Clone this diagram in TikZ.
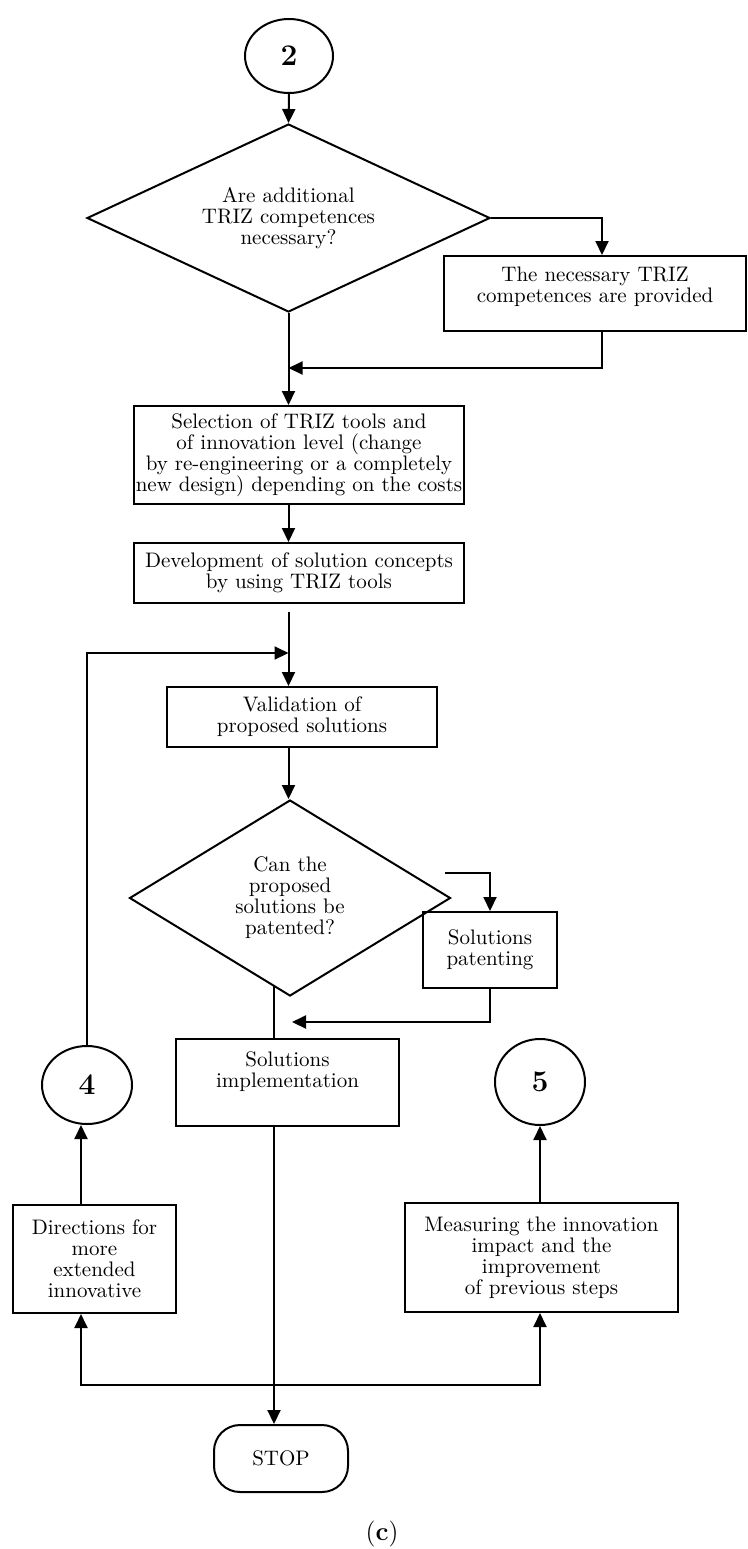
\documentclass[tikz,border=0pt]{standalone}
\usetikzlibrary{arrows.meta,shapes.geometric}
\begin{document}
\begin{tikzpicture}[x=0.5pt,y=-0.5pt,line width=1pt,
    >={Triangle[length=7pt,width=6.5pt]},
    every node/.style={font=\fontsize{10.5}{10.5}\selectfont},
    box/.style={draw,rectangle,align=center,inner sep=1pt},
    decision/.style={draw,diamond,align=center,inner sep=0pt},
    connector/.style={draw,ellipse,inner sep=0pt,font=\fontsize{15}{16}\selectfont\bfseries},
    terminal/.style={draw,rectangle,rounded corners=13pt}]
    \useasboundingbox (0,0) rectangle (748,1549);
    % flow axis
    \coordinate (axis) at (288.5,0);
    % nodes
    \node[connector,minimum width=44pt,minimum height=37pt] (c2) at (289,56) {2};
    \node[decision,aspect=2.1,minimum width=201.5pt,minimum height=94pt] (d1) at (288.5,218) {Are additional\\TRIZ competences\\necessary?};
    \node[box,minimum width=151pt,minimum height=37.5pt,label={[yshift=3.5pt,align=center]center:The necessary TRIZ\\competences are provided}] (prov) at (595,293.5) {};
    \node[box,minimum width=165pt,minimum height=49pt] (sel) at (299,455) {Selection of TRIZ tools and\\of innovation level (change\\by re-engineering or a completely\\new design) depending on the costs};
    \node[box,minimum width=165pt,minimum height=30pt] (dev) at (299,573) {Development of solution concepts\\by using TRIZ tools};
    \node[box,minimum width=135pt,minimum height=30pt] (val) at (302,717) {Validation of\\proposed solutions};
    \node[decision,aspect=1.6,minimum width=160.5pt,minimum height=98pt] (d2) at (290,898) {Can the\\proposed\\solutions be\\patented?};
    \node[box,minimum width=67pt,minimum height=38pt] (pat) at (490,950) {Solutions\\patenting};
    \node[box,minimum width=111.5pt,minimum height=43.5pt,label={[yshift=5.5pt,align=center]center:Solutions\\implementation}] (impl) at (287.5,1082.5) {};
    \node[connector,minimum width=45pt,minimum height=39pt] (c4) at (87,1085) {4};
    \node[connector,minimum width=45pt,minimum height=43pt] (c5) at (540,1082) {5};
    \node[box,minimum width=81.5pt,minimum height=54pt] (dir) at (94.5,1259) {Directions for\\more\\extended\\innovative};
    \node[box,minimum width=136.5pt,minimum height=54.5pt] (meas) at (541.5,1257.5) {Measuring the innovation\\impact and the\\improvement\\of previous steps};
    \node[terminal,minimum width=67pt,minimum height=33.5pt] (stop) at (281,1458.5) {STOP};
    \node[font=\fontsize{13}{14}\selectfont] (cap) at (382,1534) {(\textbf{c})};
    % connectors
    \coordinate (j1) at (288.5,368);
    \coordinate (j2) at (288.5,653);
    \coordinate (p1) at (445,873);
    \coordinate (j3) at (292,1022);
    \coordinate (q1) at (274,985);
    \coordinate (h1) at (81,1385);
    \coordinate (h2) at (540,1385);
    \draw[->] (c2.south) -- (d1.north);
    \draw[->] (d1.east) -| ([xshift=3.5pt]prov.north);
    \draw[->] ([xshift=3.5pt]prov.south) |- (j1);
    \draw[->] (d1.south) -- (axis |- sel.north);
    \draw[->] (axis |- sel.south) -- (axis |- dev.north);
    \draw[->,shorten <=4pt] (axis |- dev.south) -- (axis |- val.north);
    \draw[->] (c4.north) |- (j2);
    \draw[->] (axis |- val.south) -- (axis |- d2.north);
    \draw[->] (p1) -| (pat.north);
    \draw[->] (pat.south) |- (j3);
    \draw (q1) -- (q1 |- impl.north);
    \draw[->] (q1 |- impl.south) -- (q1 |- stop.north);
    \draw[<->] (h1 |- dir.south) -- (h1) -- (h2) -- (h2 |- meas.south);
    \draw[->] (h1 |- dir.north) -- (h1 |- c4.south);
    \draw[->] (h2 |- meas.north) -- (h2 |- c5.south);
\end{tikzpicture}
\end{document}
